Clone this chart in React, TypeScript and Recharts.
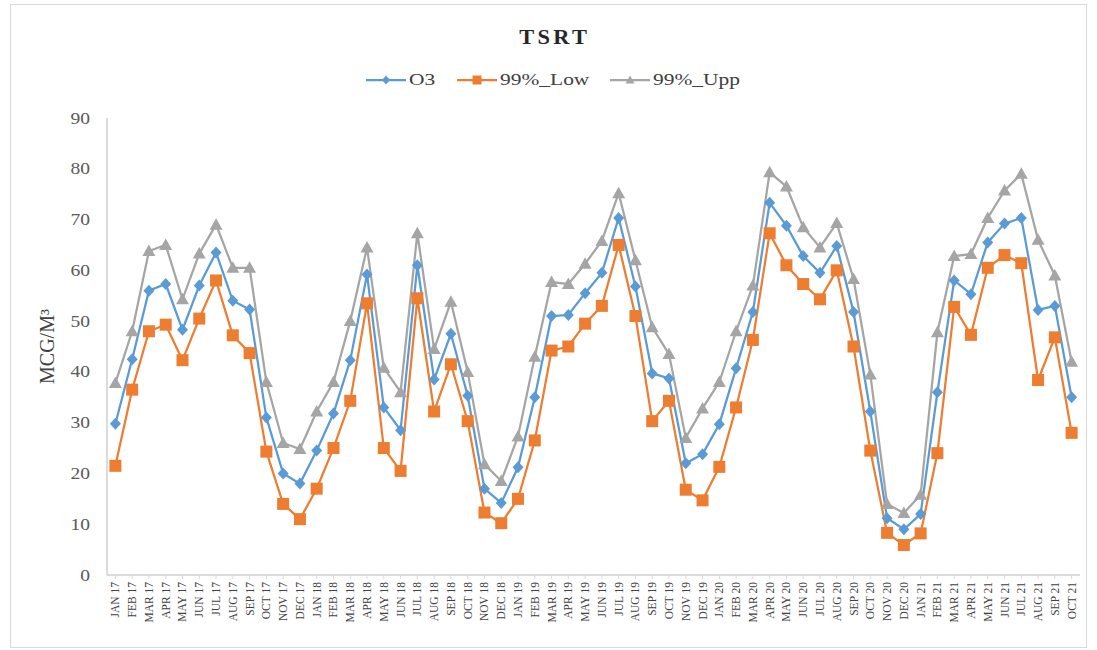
import { Line, LineChart, XAxis, YAxis, Label } from "recharts";

const months = [
  "JAN 17", "FEB 17", "MAR 17", "APR 17", "MAY 17", "JUN 17", "JUL 17", "AUG 17", "SEP 17", "OCT 17", "NOV 17", "DEC 17",
  "JAN 18", "FEB 18", "MAR 18", "APR 18", "MAY 18", "JUN 18", "JUL 18", "AUG 18", "SEP 18", "OCT 18", "NOV 18", "DEC 18",
  "JAN 19", "FEB 19", "MAR 19", "APR 19", "MAY 19", "JUN 19", "JUL 19", "AUG 19", "SEP 19", "OCT 19", "NOV 19", "DEC 19",
  "JAN 20", "FEB 20", "MAR 20", "APR 20", "MAY 20", "JUN 20", "JUL 20", "AUG 20", "SEP 20", "OCT 20", "NOV 20", "DEC 20",
  "JAN 21", "FEB 21", "MAR 21", "APR 21", "MAY 21", "JUN 21", "JUL 21", "AUG 21", "SEP 21", "OCT 21",
];

const o3 = [
  29.8, 42.5, 56, 57.3, 48.3, 57, 63.5, 54, 52.3, 31, 20, 18,
  24.5, 31.8, 42.3, 59.2, 33, 28.5, 61, 38.5, 47.5, 35.3, 17, 14.2,
  21.2, 35, 51, 51.2, 55.5, 59.5, 70.3, 56.8, 39.7, 38.7, 22, 23.8,
  29.7, 40.7, 51.8, 73.3, 68.8, 62.8, 59.5, 64.8, 51.8, 32.2, 11.2, 9,
  12, 36, 58, 55.3, 65.5, 69.2, 70.3, 52.2, 53, 35,
];

const low99 = [
  21.5, 36.5, 48, 49.3, 42.3, 50.5, 58, 47.2, 43.7, 24.3, 14, 11,
  17, 25, 34.3, 53.5, 25, 20.5, 54.5, 32.2, 41.5, 30.3, 12.3, 10.2,
  15, 26.5, 44.2, 45, 49.5, 53, 65, 51, 30.3, 34.3, 16.8, 14.7,
  21.3, 33, 46.3, 67.3, 61, 57.3, 54.3, 60, 45, 24.5, 8.3, 5.9,
  8.2, 24, 52.8, 47.3, 60.5, 63, 61.4, 38.4, 46.8, 28,
];

const upp99 = [
  37.8, 48, 63.8, 65, 54.3, 63.3, 69, 60.5, 60.5, 38, 26, 24.8,
  32.2, 38, 50, 64.5, 40.8, 36, 67.3, 44.5, 53.8, 40, 21.8, 18.5,
  27.3, 43, 57.7, 57.3, 61.3, 65.8, 75.2, 62, 48.8, 43.5, 27, 32.8,
  38, 48, 57, 79.3, 76.5, 68.5, 64.5, 69.3, 58.3, 39.5, 14, 12.2,
  15.8, 47.8, 62.8, 63.2, 70.3, 75.7, 79, 66, 59, 42,
];

const yTicks = [0, 10, 20, 30, 40, 50, 60, 70, 80, 90];

const data = months.map((m, i) => ({
  name: m,
  O3: o3[i],
  Low: low99[i],
  Upp: upp99[i],
}));

const BLUE = "#5B9BD5";
const ORANGE = "#ED7D31";
const GRAY = "#A5A5A5";
const FONT = '"Liberation Serif", "Times New Roman", serif';

function Diamond(p: any) {
  const { cx, cy, index } = p;
  if (cx == null || cy == null) return <g key={index} />;
  return (
    <path
      key={index}
      d={`M${cx},${cy - 6}L${cx + 5.5},${cy}L${cx},${cy + 6}L${cx - 5.5},${cy}Z`}
      fill={BLUE}
    />
  );
}

function Square(p: any) {
  const { cx, cy, index } = p;
  if (cx == null || cy == null) return <g key={index} />;
  return <rect key={index} x={cx - 6} y={cy - 6} width={12} height={12} fill={ORANGE} />;
}

function Triangle(p: any) {
  const { cx, cy, index } = p;
  if (cx == null || cy == null) return <g key={index} />;
  return (
    <path
      key={index}
      d={`M${cx},${cy - 6.5}L${cx + 6.5},${cy + 5}L${cx - 6.5},${cy + 5}Z`}
      fill={GRAY}
    />
  );
}

function XTick(p: any) {
  const { x, y, payload } = p;
  return (
    <text
      x={x}
      y={y}
      dy={4}
      transform={`rotate(-90 ${x} ${y})`}
      textAnchor="end"
      fontFamily={FONT}
      fontSize={11.5}
      fill="#404040"
    >
      {payload.value}
    </text>
  );
}

function YTick(p: any) {
  const { x, y, payload } = p;
  return (
    <text
      transform={`translate(${x} ${y}) scale(1.15 1)`}
      textAnchor="end"
      dominantBaseline="central"
      fontFamily={FONT}
      fontSize={17}
      fill="#595959"
    >
      {payload.value}
    </text>
  );
}

const legendItems = [
  { label: "O3", color: BLUE, shape: "diamond", w: 28 },
  { label: "99%_Low", color: ORANGE, shape: "square", w: 90 },
  { label: "99%_Upp", color: GRAY, shape: "triangle", w: 92 },
];

function LegendIcon({ color, shape }: { color: string; shape: string }) {
  return (
    <svg width={40} height={14} style={{ display: "block" }}>
      <line x1={0} y1={7} x2={40} y2={7} stroke={color} strokeWidth={2.25} />
      {shape === "diamond" && <path d="M20,2.5L24,7L20,11.5L16,7Z" fill={color} />}
      {shape === "square" && <rect x={15.5} y={2.5} width={9} height={9} fill={color} />}
      {shape === "triangle" && <path d="M20,2.5L24.5,10.5L15.5,10.5Z" fill={color} />}
    </svg>
  );
}

export default function App() {
  return (
    <div
      style={{
        position: "absolute",
        left: 0,
        top: 0,
        width: 1097,
        height: 650,
        background: "#fff",
        fontFamily: FONT,
      }}
    >
      <div
        style={{
          position: "absolute",
          left: 10,
          top: 4,
          width: 1077,
          height: 644,
          border: "1px solid #d9d9d9",
          boxSizing: "border-box",
        }}
      />
      <div
        style={{
          position: "absolute",
          left: 0,
          top: 26,
          width: 1110,
          textAlign: "center",
          fontSize: 20,
          fontWeight: "bold",
          letterSpacing: 3,
          color: "#262626",
        }}
      >
        <span style={{ display: "inline-block", transform: "scaleX(1.12)" }}>TSRT</span>
      </div>
      <div
        style={{
          position: "absolute",
          left: 0,
          top: 69,
          width: 1110,
          display: "flex",
          justifyContent: "center",
          alignItems: "center",
          gap: 20,
        }}
      >
        {legendItems.map((it) => (
          <div key={it.label} style={{ display: "flex", alignItems: "center", gap: 3 }}>
            <LegendIcon color={it.color} shape={it.shape} />
            <div style={{ width: it.w, height: 22, position: "relative" }}>
              <span
                style={{
                  position: "absolute",
                  left: 0,
                  top: 0,
                  fontSize: 16.5,
                  lineHeight: "22px",
                  color: "#404040",
                  whiteSpace: "nowrap",
                  transform: "scaleX(1.3)",
                  transformOrigin: "left center",
                }}
              >
                {it.label}
              </span>
            </div>
          </div>
        ))}
      </div>
      <div style={{ position: "absolute", left: 0, top: 0 }}>
        <LineChart
          width={1097}
          height={650}
          data={data}
          margin={{ top: 118, right: 17, bottom: 5, left: 0 }}
        >
          <XAxis
            dataKey="name"
            scale="band"
            interval={0}
            height={70}
            tick={<XTick />}
            tickSize={4}
            tickMargin={3}
            axisLine={{ stroke: "#cfcfcf", strokeWidth: 1.5 }}
            tickLine={{ stroke: "#d9d9d9" }}
          />
          <YAxis
            width={107}
            domain={[0, 90]}
            ticks={yTicks}
            interval={0}
            tick={<YTick />}
            tickSize={0}
            tickMargin={17}
            axisLine={{ stroke: "#cfcfcf", strokeWidth: 1.5 }}
            tickLine={false}
          >
            <Label
              value="MCG/M³"
              angle={-90}
              position="center"
              dx={-7}
              style={{ fontFamily: FONT, fontSize: 20, fill: "#404040" }}
            />
          </YAxis>
          <Line
            dataKey="O3"
            stroke={BLUE}
            strokeWidth={2.25}
            dot={(p: any) => <Diamond key={p.index} {...p} />}
            activeDot={false}
            isAnimationActive={false}
          />
          <Line
            dataKey="Low"
            stroke={ORANGE}
            strokeWidth={2.25}
            dot={(p: any) => <Square key={p.index} {...p} />}
            activeDot={false}
            isAnimationActive={false}
          />
          <Line
            dataKey="Upp"
            stroke={GRAY}
            strokeWidth={2.25}
            dot={(p: any) => <Triangle key={p.index} {...p} />}
            activeDot={false}
            isAnimationActive={false}
          />
        </LineChart>
      </div>
    </div>
  );
}
